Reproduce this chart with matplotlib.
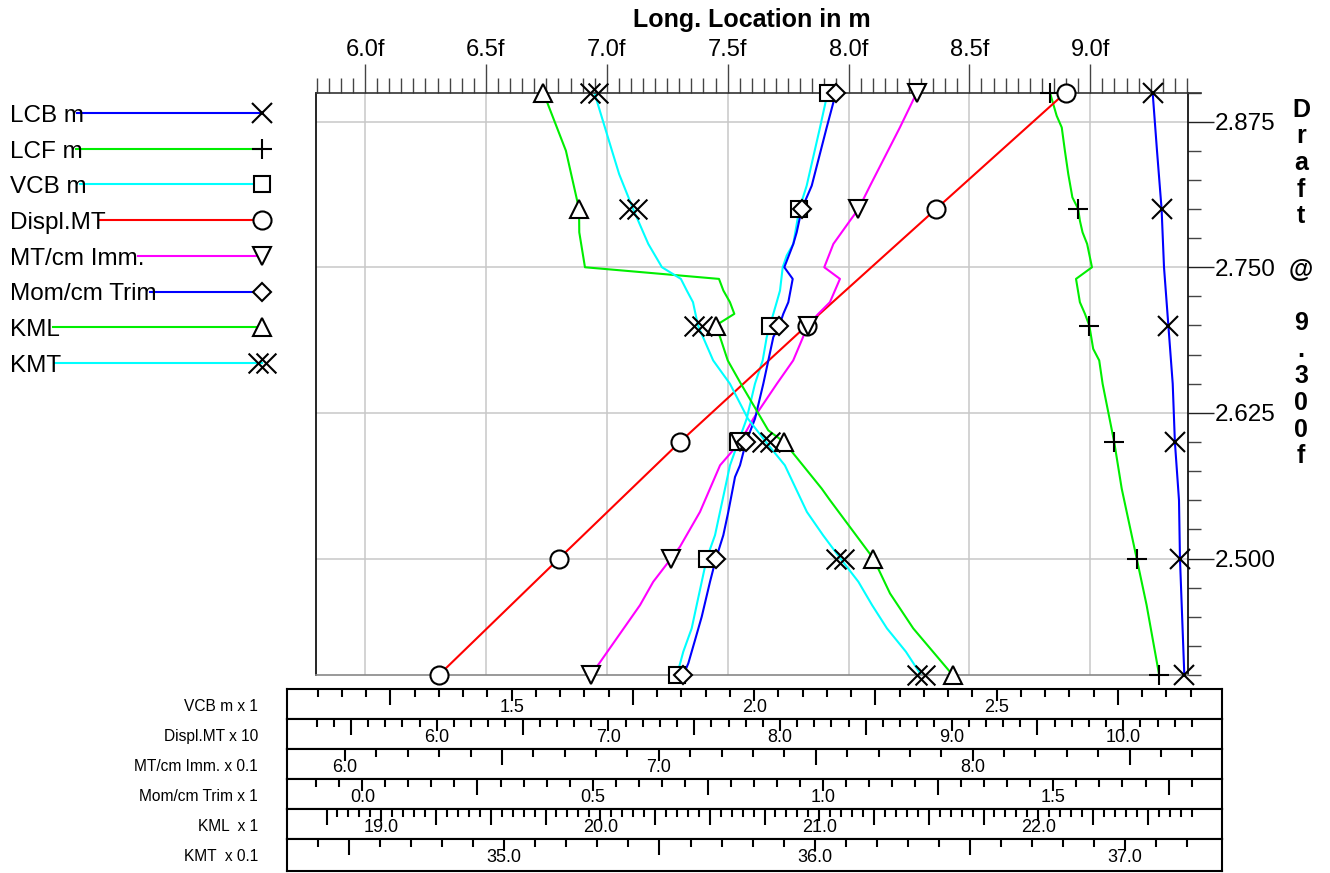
import matplotlib.pyplot as plt
import numpy as np
from matplotlib.path import Path
from matplotlib.ticker import FuncFormatter, MultipleLocator

plt.rcParams["font.family"] = ["Liberation Sans", "DejaVu Sans"]

W, H = 1330, 873

# ---- curve data: draft (m) and value in the curve's own unit ----
lcb_draft = [2.90, 2.85, 2.80, 2.75, 2.70, 2.65, 2.60, 2.55, 2.50, 2.45, 2.40]
lcb_m = [9.258, 9.276, 9.295, 9.305, 9.323, 9.341, 9.350, 9.367, 9.371, 9.380, 9.389]

lcf_draft = [2.90, 2.88, 2.87, 2.85, 2.83, 2.81, 2.80, 2.79, 2.78, 2.77, 2.75, 2.74,
             2.72, 2.71, 2.70, 2.68, 2.67, 2.65, 2.60, 2.56, 2.50, 2.46, 2.40]
lcf_m = [8.833, 8.861, 8.882, 8.895, 8.909, 8.926, 8.950, 8.957, 8.968, 8.987, 9.007, 8.941,
         8.957, 8.978, 8.996, 9.012, 9.037, 9.051, 9.099, 9.130, 9.192, 9.233, 9.285]

vcb_draft = [2.90, 2.87, 2.82, 2.80, 2.77, 2.76, 2.75, 2.73, 2.72, 2.71, 2.70, 2.69, 2.67,
             2.65, 2.62, 2.60, 2.58, 2.56, 2.54, 2.52, 2.50, 2.48, 2.46, 2.44, 2.42, 2.40]
vcb_m = [2.1515, 2.1357, 2.1082, 2.0930, 2.0806, 2.0670, 2.0588, 2.0532, 2.0464, 2.0394,
         2.0326, 2.0258, 2.0175, 2.0016, 1.9845, 1.9672, 1.9501, 1.9398, 1.9295, 1.9192,
         1.9021, 1.8918, 1.8814, 1.8711, 1.8538, 1.8408]

displ_draft = [2.90, 2.80, 2.70, 2.60, 2.50, 2.40]
displ_mt = [96.64, 89.09, 81.56, 74.17, 67.13, 60.13]

mtc_draft = [2.90, 2.87, 2.82, 2.80, 2.79, 2.77, 2.75, 2.74, 2.72, 2.71, 2.70, 2.67,
             2.65, 2.62, 2.60, 2.58, 2.54, 2.51, 2.50, 2.48, 2.46, 2.40]
mtc_imm = [0.7822, 0.7768, 0.7673, 0.7636, 0.7609, 0.7556, 0.7527, 0.7577, 0.7545, 0.7508,
           0.7475, 0.7428, 0.7376, 0.7301, 0.7259, 0.7195, 0.7131, 0.7067, 0.7039, 0.6982,
           0.6940, 0.6784]

mct_draft = [2.90, 2.87, 2.82, 2.80, 2.78, 2.77, 2.75, 2.74, 2.72, 2.71, 2.70, 2.69, 2.67,
             2.65, 2.62, 2.60, 2.58, 2.57, 2.54, 2.52, 2.50, 2.48, 2.45, 2.43, 2.41, 2.40]
mct_trim = [1.0282, 1.0080, 0.9755, 0.9538, 0.9429, 0.9355, 0.9160, 0.9342, 0.9247, 0.9138,
            0.9051, 0.8921, 0.8813, 0.8704, 0.8524, 0.8329, 0.8198, 0.8090, 0.7944, 0.7836,
            0.7677, 0.7547, 0.7367, 0.7222, 0.7076, 0.6968]

kml_draft = [2.90, 2.85, 2.80, 2.78, 2.75, 2.74, 2.73, 2.72, 2.71, 2.70, 2.69, 2.67,
             2.65, 2.61, 2.60, 2.56, 2.55, 2.50, 2.47, 2.44, 2.40]
kml_m = [19.740, 19.843, 19.903, 19.904, 19.930, 20.542, 20.562, 20.592, 20.612, 20.527,
         20.547, 20.582, 20.642, 20.767, 20.839, 21.011, 21.049, 21.247, 21.323, 21.429, 21.609]

kmt_draft = [2.90, 2.85, 2.83, 2.80, 2.77, 2.75, 2.74, 2.73, 2.72, 2.70, 2.67, 2.65,
             2.62, 2.60, 2.58, 2.54, 2.52, 2.50, 2.48, 2.46, 2.44, 2.42, 2.40]
kmt_m = [3.5290, 3.5347, 3.5370, 3.5415, 3.5464, 3.5508, 3.5569, 3.5588, 3.5608, 3.5624,
         3.5673, 3.5727, 3.5785, 3.5843, 3.5904, 3.5975, 3.6027, 3.6083, 3.6141, 3.6185,
         3.6233, 3.6294, 3.6343]

marker_drafts = [2.9, 2.8, 2.7, 2.6, 2.5, 2.4]

# main axis limits
LOC_LIM = (5.796, 9.403)
DRAFT_LIM = (2.40, 2.90)

# bottom scales: label, factor, scale value at plot left / right edge, minor, long, label step
scale_rows = ["VCB", "DISPL", "MTC", "MCT", "KML", "KMT"]
scale_label = {"VCB": "VCB m x 1", "DISPL": "Displ.MT x 10", "MTC": "MT/cm Imm. x 0.1",
               "MCT": "Mom/cm Trim x 1", "KML": "KML  x 1", "KMT": "KMT  x 0.1"}
scale_factor = {"VCB": 1, "DISPL": 10, "MTC": 0.1, "MCT": 1, "KML": 1, "KMT": 0.1}
scale_span = {"VCB": (1.0959, 2.8938), "DISPL": (5.2951, 10.3752), "MTC": (5.9066, 8.6850),
              "MCT": (-0.1012, 1.7916), "KML": (18.7005, 22.6822), "KMT": (34.3923, 37.2020)}
scale_steps = {"VCB": (0.05, 0.25, 0.5), "DISPL": (0.1, 0.5, 1.0), "MTC": (0.1, 0.5, 1.0),
               "MCT": (0.05, 0.25, 0.5), "KML": (0.05, 0.25, 1.0), "KMT": (0.1, 0.5, 1.0)}

# layout in pixels
PLOT_L, PLOT_R, PLOT_T, PLOT_B = 315.7, 1187.7, 92.5, 675.0
BOX_L, BOX_R = 287.0, 1222.0
ROW_TOP0, ROW_H = 688.5, 30.0

BLUE, GREEN, CYAN, RED, MAGENTA = "#0000ff", "#00ee00", "#00ffff", "#ff0000", "#ff00ff"
LW = 1.5


def double_x():
    verts, codes = [], []
    for dx in (-0.2, 0.2):
        verts += [(dx - 0.5, -0.5), (dx + 0.5, 0.5), (dx - 0.5, 0.5), (dx + 0.5, -0.5)]
        codes += [Path.MOVETO, Path.LINETO, Path.MOVETO, Path.LINETO]
    return Path(verts, codes)


def to_loc(vals, key):
    if key is None:
        return np.asarray(vals, float)
    s = np.asarray(vals, float) / scale_factor[key]
    s0, s1 = scale_span[key]
    return LOC_LIM[0] + (s - s0) / (s1 - s0) * (LOC_LIM[1] - LOC_LIM[0])


MARKER_STYLE = {
    "x": dict(marker="x", ms=14.5),
    "+": dict(marker="+", ms=14.5),
    "s": dict(marker="s", ms=12, mfc="white"),
    "o": dict(marker="o", ms=13, mfc="white"),
    "v": dict(marker="v", ms=12.5, mfc="white"),
    "D": dict(marker="D", ms=9, mfc="white"),
    "^": dict(marker="^", ms=12.5, mfc="white"),
    "xx": dict(marker=double_x(), ms=20, mfc="none"),
}

series = [
    ("LCB m", BLUE, "x", lcb_draft, lcb_m, None),
    ("LCF m", GREEN, "+", lcf_draft, lcf_m, None),
    ("VCB m", CYAN, "s", vcb_draft, vcb_m, "VCB"),
    ("Displ.MT", RED, "o", displ_draft, displ_mt, "DISPL"),
    ("MT/cm Imm.", MAGENTA, "v", mtc_draft, mtc_imm, "MTC"),
    ("Mom/cm Trim", BLUE, "D", mct_draft, mct_trim, "MCT"),
    ("KML", GREEN, "^", kml_draft, kml_m, "KML"),
    ("KMT", CYAN, "xx", kmt_draft, kmt_m, "KMT"),
]

fig = plt.figure(figsize=(W / 100, H / 100), dpi=100)

# ---- main chart ----
ax = fig.add_axes([PLOT_L / W, 1 - PLOT_B / H, (PLOT_R - PLOT_L) / W, (PLOT_B - PLOT_T) / H])
for label, color, mk, drafts, vals, key in series:
    x = to_loc(vals, key)
    ax.plot(x, drafts, color=color, lw=LW, zorder=2)
for label, color, mk, drafts, vals, key in series:
    x = to_loc(vals, key)
    d = np.asarray(drafts)
    sel = np.isin(np.round(d, 3), np.round(marker_drafts, 3))
    ax.plot(x[sel], d[sel], ls="none", mec="black", mew=1.5, zorder=3,
            clip_on=False, **MARKER_STYLE[mk])

ax.set_xlim(LOC_LIM)
ax.set_ylim(DRAFT_LIM)
ax.xaxis.tick_top()
ax.yaxis.tick_right()
ax.xaxis.set_major_locator(MultipleLocator(0.5))
ax.xaxis.set_minor_locator(MultipleLocator(0.05))
ax.xaxis.set_major_formatter(FuncFormatter(lambda v, p: f"{v:.1f}f"))
ax.yaxis.set_major_locator(MultipleLocator(0.125))
ax.yaxis.set_minor_locator(MultipleLocator(0.025))
ax.yaxis.set_major_formatter(FuncFormatter(lambda v, p: f"{v:.3f}"))
ax.tick_params(axis="x", which="major", direction="out", length=21, width=1.0,
               color="#444444", labelsize=17, pad=1.5)
ax.tick_params(axis="x", which="minor", direction="out", length=10.5, width=1.0, color="#444444")
ax.tick_params(axis="y", which="major", direction="out", length=19, width=1.0,
               color="#222222", labelsize=17.5, pad=0.5)
ax.tick_params(axis="y", which="minor", direction="out", length=9.5, width=1.0, color="#444444")
ax.grid(True, which="major", color="#c8c8c8", lw=1.1)
ax.set_axisbelow(True)
for side, col in (("left", "black"), ("right", "black"), ("top", "#333333"), ("bottom", "#888888")):
    ax.spines[side].set_color(col)
    ax.spines[side].set_linewidth(1.2)

# ---- bottom scale rows ----
pix = fig.add_axes([0, 0, 1, 1])
pix.set_xlim(0, W)
pix.set_ylim(H, 0)
pix.axis("off")
pix.patch.set_alpha(0)

for i, key in enumerate(scale_rows):
    top = ROW_TOP0 + ROW_H * i
    h = ROW_H if i < len(scale_rows) - 1 else 32.5
    s0, s1 = scale_span[key]
    per_px = (s1 - s0) / (PLOT_R - PLOT_L)
    rax = fig.add_axes([BOX_L / W, 1 - (top + h) / H, (BOX_R - BOX_L) / W, h / H])
    rax.set_xlim(s0 + (BOX_L - PLOT_L) * per_px, s0 + (BOX_R - PLOT_L) * per_px)
    rax.set_ylim(h, 0)
    rax.set_xticks([])
    rax.set_yticks([])
    for sp in rax.spines.values():
        sp.set_linewidth(1.5)
        sp.set_color("black")
    minor, long_, lab = scale_steps[key]
    hi = s1 + 6 * per_px
    n = np.arange(np.ceil(s0 / minor - 1e-6), np.floor(hi / minor + 1e-6) + 1)
    for v in n * minor:
        if abs(v / lab - round(v / lab)) < 1e-6:
            rax.vlines(v, 0, 12, color="black", lw=1.5)
            rax.text(v, 24, f"{v:.1f}", ha="center", va="baseline", fontsize=13)
        elif abs(v / long_ - round(v / long_)) < 1e-6:
            rax.vlines(v, 0, 16, color="black", lw=1.5)
        else:
            rax.vlines(v, 0, 8, color="black", lw=1.5)
    pix.text(258, top + 22.5, scale_label[key], ha="right", va="baseline", fontsize=11.2)

# ---- titles ----
pix.text(752, 27, "Long. Location in m", ha="center", va="baseline",
         fontsize=18, fontweight="bold")
for i, ch in enumerate("Draft @ 9.300f"):
    pix.text(1301, 116.7 + i * 26.66, ch, ha="center", va="baseline",
             fontsize=18, fontweight="bold")
pix.plot([PLOT_R, 1201], [PLOT_T, PLOT_T], color="#333333", lw=1.2)

# ---- legend ----
texts = []
for i, (label, color, mk, *_rest) in enumerate(series):
    y = 113 + 35.7 * i
    texts.append(pix.text(10, y + 8.8, label, ha="left", va="baseline", fontsize=17.5))
fig.canvas.draw()
for i, (label, color, mk, *_rest) in enumerate(series):
    y = 113 + 35.7 * i
    x_start = texts[i].get_window_extent().x1 - 7
    pix.plot([x_start, 262], [y, y], color=color, lw=LW, zorder=2)
    pix.plot([262], [y], ls="none", mec="black", mew=1.5, zorder=3, **MARKER_STYLE[mk])

fig.savefig("out.png", dpi=100)
